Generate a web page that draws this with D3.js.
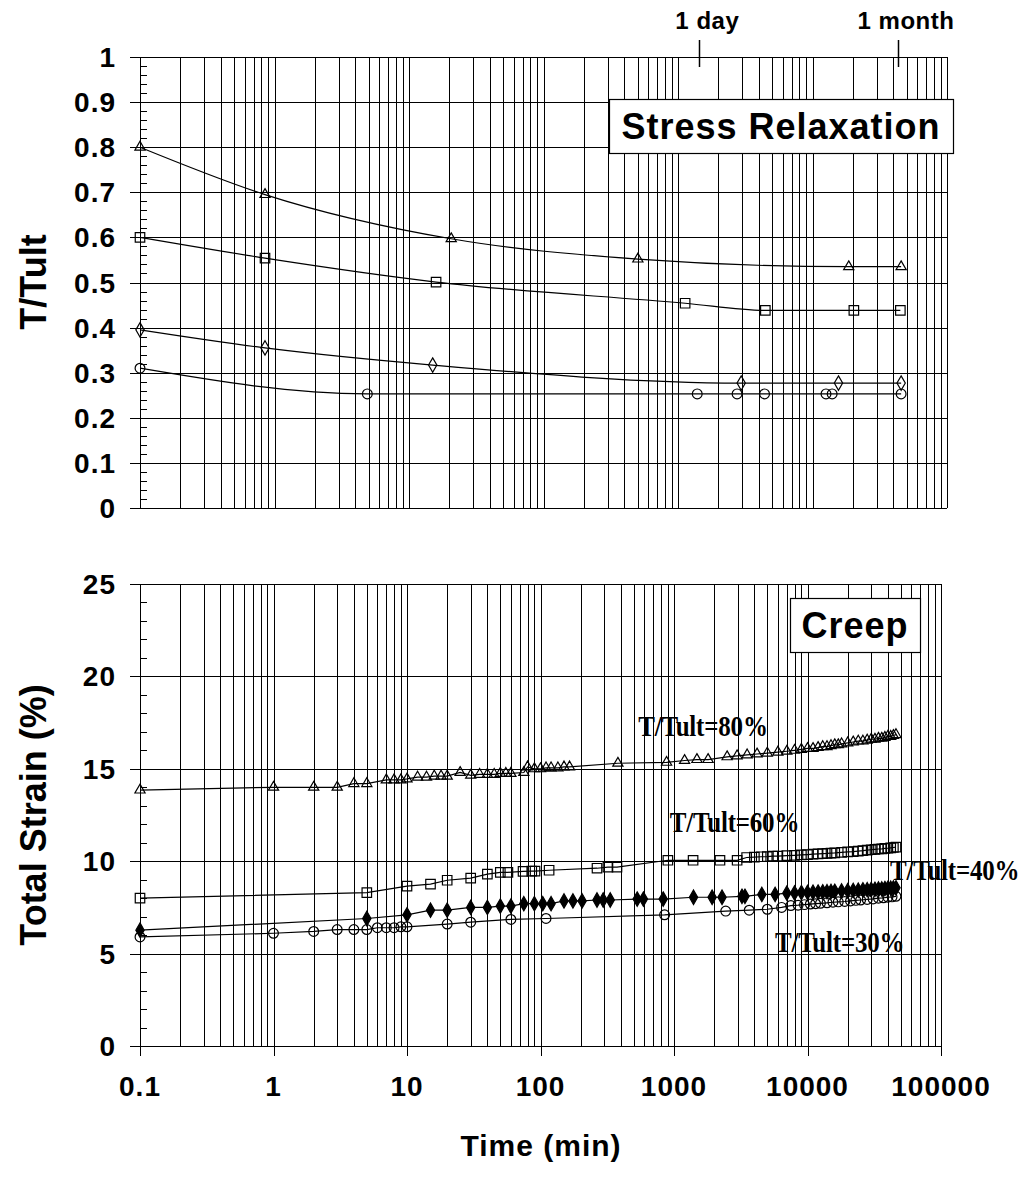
<!DOCTYPE html>
<html>
<head>
<meta charset="utf-8">
<script src="https://cdn.jsdelivr.net/npm/d3@7/dist/d3.min.js"></script>
<style>
  html, body { margin: 0; padding: 0; background: #fff; }
  svg { display: block; }
  text { font-family: "Liberation Sans", Arial, sans-serif; font-weight: bold; fill: #000; }
  .ann { font-family: "Liberation Serif", "Times New Roman", serif; font-weight: bold; }
</style>
</head>
<body>
<svg id="chart" width="1024" height="1181"></svg>
<script>
// ---------- DATA ----------
const xTickLabels = ["0.1", "1", "10", "100", "1000", "10000", "100000"];
const xTickValues = [0.1, 1, 10, 100, 1000, 10000, 100000];
const topYTicks = [0, 0.1, 0.2, 0.3, 0.4, 0.5, 0.6, 0.7, 0.8, 0.9, 1];
const topYLabels = ["0", "0.1", "0.2", "0.3", "0.4", "0.5", "0.6", "0.7", "0.8", "0.9", "1"];
const botYTicks = [0, 5, 10, 15, 20, 25];
const botYLabels = ["0", "5", "10", "15", "20", "25"];
const timeMarks = [{ label: "1 day", t: 1440 }, { label: "1 month", t: 43200 }];

// Stress relaxation (time [min], T/Tult)
const relax80 = [[0.1, 0.80], [0.85, 0.695], [20.6, 0.597], [503, 0.552], [18600, 0.535], [45600, 0.535]];
const relax60 = [[0.1, 0.60], [0.85, 0.554], [15.9, 0.501], [1130, 0.454], [4460, 0.438], [20300, 0.438], [45000, 0.438]];
const relax40 = [[0.1, 0.395], [0.85, 0.355], [15, 0.317], [2950, 0.277], [15600, 0.277], [45600, 0.277]];
const relax30 = [[0.1, 0.31], [4.9, 0.253], [1390, 0.253], [2750, 0.253], [4400, 0.253], [12600, 0.253], [14000, 0.253], [45600, 0.253]];

// Creep (time [min], total strain %)
const creep80 = [[0.1, 13.85], [1, 14.0], [2, 14.0], [3, 14.0], [4, 14.2], [5, 14.2], [7, 14.4], [8, 14.4], [9, 14.4], [10, 14.45],
  [12, 14.55], [14, 14.55], [16, 14.6], [18, 14.6], [20, 14.6], [25, 14.8], [30, 14.65], [35, 14.7], [40, 14.7], [45, 14.7],
  [50, 14.75], [55, 14.75], [60, 14.75], [75, 14.8], [80, 15.1], [90, 15.0], [100, 15.0], [110, 15.05], [120, 15.05], [135, 15.05],
  [150, 15.1], [165, 15.1], [380, 15.3], [880, 15.35], [1200, 15.45], [1485, 15.5], [1800, 15.5], [2500, 15.65], [2970, 15.7],
  [3530, 15.75], [4190, 15.8], [5000, 15.85], [6000, 15.9], [7000, 15.95], [8000, 16.0], [9000, 16.05], [10000, 16.1], [11000, 16.1],
  [12000, 16.15], [13000, 16.2], [14000, 16.2], [15000, 16.25], [16000, 16.3], [17000, 16.3], [18000, 16.35], [20000, 16.4],
  [22000, 16.45], [24000, 16.5], [26000, 16.5], [28000, 16.55], [30000, 16.6], [32000, 16.6], [34000, 16.65], [36000, 16.65],
  [38000, 16.7], [40000, 16.75], [42000, 16.75], [44000, 16.8], [46000, 16.85]];
const creep60 = [[0.1, 8.0], [5, 8.3], [10, 8.65], [15, 8.76], [20, 8.97], [30, 9.08], [40, 9.3], [50, 9.4], [57, 9.4], [74, 9.45],
  [86, 9.46], [91, 9.46], [116, 9.51], [265, 9.62], [320, 9.68], [374, 9.68], [900, 10.05], [1390, 10.05], [2210, 10.05], [2970, 10.05],
  [3500, 10.2], [4000, 10.22], [4500, 10.24], [5000, 10.25], [5500, 10.27], [6000, 10.28], [7000, 10.3], [8000, 10.32], [9000, 10.34],
  [10000, 10.36], [11000, 10.38], [12000, 10.4], [13000, 10.41], [14000, 10.42], [15000, 10.44], [16000, 10.45], [18000, 10.48],
  [20000, 10.5], [22000, 10.52], [24000, 10.55], [26000, 10.57], [28000, 10.6], [30000, 10.62], [32000, 10.64], [34000, 10.66],
  [36000, 10.67], [38000, 10.69], [40000, 10.7], [42000, 10.72], [44000, 10.74], [46000, 10.76]];
const creep40 = [[0.1, 6.27], [5, 6.9], [10, 7.1], [15, 7.35], [20, 7.35], [30, 7.5], [40, 7.5], [50, 7.57], [60, 7.57], [75, 7.7],
  [90, 7.7], [104, 7.7], [120, 7.7], [150, 7.85], [175, 7.85], [205, 7.85], [265, 7.9], [295, 7.9], [333, 7.9], [530, 7.95],
  [590, 7.95], [830, 7.95], [1400, 8.05], [1930, 8.05], [2290, 8.05], [3230, 8.1], [3400, 8.1], [4550, 8.2], [5720, 8.2],
  [7000, 8.27], [8000, 8.28], [9000, 8.3], [10000, 8.31], [11000, 8.32], [12000, 8.33], [13000, 8.34], [14000, 8.35], [15000, 8.36],
  [16000, 8.37], [18000, 8.39], [20000, 8.4], [22000, 8.42], [24000, 8.43], [26000, 8.45], [28000, 8.46], [30000, 8.47],
  [32000, 8.48], [34000, 8.5], [36000, 8.5], [38000, 8.52], [40000, 8.53], [42000, 8.54], [44000, 8.55], [46000, 8.56]];
const creep30 = [[0.1, 5.9], [1, 6.1], [2, 6.2], [3, 6.3], [4, 6.3], [5, 6.3], [6, 6.4], [7, 6.4], [8, 6.4], [9, 6.45], [10, 6.45],
  [20, 6.6], [30, 6.7], [60, 6.85], [110, 6.9], [850, 7.1], [2440, 7.3], [3660, 7.35], [5000, 7.4], [6400, 7.5], [7500, 7.6],
  [8500, 7.62], [9500, 7.65], [10500, 7.68], [11500, 7.7], [12500, 7.72], [14000, 7.75], [15500, 7.78], [17000, 7.8], [19000, 7.82],
  [21000, 7.85], [23000, 7.88], [25000, 7.9], [28000, 7.93], [31000, 7.96], [34000, 8.0], [37000, 8.02], [40000, 8.05],
  [43000, 8.07], [46000, 8.1]];

const creepLabels = [
  { text: "T/Tult=80%", t: 5.4e2, v: 16.76 },
  { text: "T/Tult=60%", t: 9.3e2, v: 11.57 },
  { text: "T/Tult=40%", t: 4.15e4, v: 8.97 },
  { text: "T/Tult=30%", t: 5.7e3, v: 5.08 }
];

// ---------- DRAW ----------
const svg = d3.select("#chart");

const xTop = d3.scaleLog().domain([0.1, 1e5]).range([140, 947]);
const yTop = d3.scaleLinear().domain([0, 1]).range([508, 57]);
const xBot = d3.scaleLog().domain([0.1, 1e5]).range([140, 941]);
const yBot = d3.scaleLinear().domain([0, 25]).range([1046, 584]);

const gridX = [];
for (let e = -1; e < 5; e++) for (let k = 1; k <= 9; k++) gridX.push(k * Math.pow(10, e));
gridX.push(1e5);

function crisp(v) { return Math.round(v) + 0.5; }

function panel(g, x, y, yTicks, yLabels, minorStep) {
  const [x0, x1] = x.range();
  const [y0, y1] = y.range();
  const [d0, d1] = y.domain();
  g.selectAll(".vg").data(gridX).enter().append("line")
    .attr("x1", d => crisp(x(d))).attr("x2", d => crisp(x(d)))
    .attr("y1", y1).attr("y2", y0)
    .attr("stroke", "#000").attr("stroke-width", 1).attr("shape-rendering", "crispEdges");
  g.selectAll(".hg").data(yTicks).enter().append("line")
    .attr("x1", x0 - 10).attr("x2", x1)
    .attr("y1", d => crisp(y(d))).attr("y2", d => crisp(y(d)))
    .attr("stroke", "#000").attr("stroke-width", 1).attr("shape-rendering", "crispEdges");
  const minor = d3.range(d0, d1 + 1e-9, minorStep).filter(v => !yTicks.some(t => Math.abs(t - v) < 1e-9));
  g.selectAll(".mt").data(minor).enter().append("line")
    .attr("x1", x0).attr("x2", x0 + 7)
    .attr("y1", d => crisp(y(d))).attr("y2", d => crisp(y(d)))
    .attr("stroke", "#000").attr("stroke-width", 1).attr("shape-rendering", "crispEdges");
  g.selectAll(".yl").data(yTicks).enter().append("text")
    .attr("x", 116).attr("y", d => y(d)).attr("dy", "0.36em")
    .attr("text-anchor", "end").style("font-size", "28px").style("letter-spacing", "1px")
    .text((d, i) => yLabels[i]);
}

const gTop = svg.append("g");
panel(gTop, xTop, yTop, topYTicks, topYLabels, 0.02);
const gBot = svg.append("g");
panel(gBot, xBot, yBot, botYTicks, botYLabels, 1);

gBot.selectAll(".dt").data(xTickValues).enter().append("line")
  .attr("x1", d => crisp(xBot(d))).attr("x2", d => crisp(xBot(d)))
  .attr("y1", 1046).attr("y2", 1056)
  .attr("stroke", "#000").attr("shape-rendering", "crispEdges");

gBot.selectAll(".xl").data(xTickValues).enter().append("text")
  .attr("x", d => xBot(d)).attr("y", 1096).attr("text-anchor", "middle")
  .style("font-size", "28px").style("letter-spacing", "1px")
  .text((d, i) => xTickLabels[i]);

svg.append("text").attr("x", 541).attr("y", 1156).attr("text-anchor", "middle")
  .style("font-size", "30px").style("letter-spacing", "1px").text("Time (min)");

svg.append("text").attr("transform", "translate(46,282) rotate(-90)").attr("text-anchor", "middle")
  .style("font-size", "36px").text("T/Tult");
svg.append("text").attr("transform", "translate(46,815) rotate(-90)").attr("text-anchor", "middle")
  .style("font-size", "36px").text("Total Strain (%)");

timeMarks.forEach(m => {
  svg.append("line").attr("x1", crisp(xTop(m.t))).attr("x2", crisp(xTop(m.t)))
    .attr("y1", 40).attr("y2", 67).attr("stroke", "#000").attr("stroke-width", 1.5);
  svg.append("text").attr("x", xTop(m.t) + 8).attr("y", 29).attr("text-anchor", "middle")
    .style("font-size", "24px").style("letter-spacing", "0.5px").text(m.label);
});

function box(x0, y0, w, h, label, size) {
  svg.append("rect").attr("x", x0 + 0.5).attr("y", y0 + 0.5).attr("width", w).attr("height", h)
    .attr("fill", "#fff").attr("stroke", "#000").attr("stroke-width", 1.2);
  svg.append("text").attr("x", x0 + w / 2).attr("y", y0 + h / 2).attr("dy", "0.36em").attr("text-anchor", "middle")
    .style("font-size", size + "px").style("letter-spacing", "1px").text(label);
}

const sym = {
  tri: d3.symbol().type(d3.symbolTriangle).size(45),
  sq: d3.symbol().type(d3.symbolSquare).size(90),
  dia: d3.symbol().type(d3.symbolDiamond).size(60),
  circ: d3.symbol().type(d3.symbolCircle).size(75)
};

function series(g, data, x, y, kind, filled, curve) {
  const line = d3.line().x(d => x(d[0])).y(d => y(d[1])).curve(curve);
  g.append("path").datum(data).attr("d", line).attr("fill", "none").attr("stroke", "#000").attr("stroke-width", 1.2);
  g.selectAll(null).data(data).enter().append("path")
    .attr("transform", d => `translate(${x(d[0])},${y(d[1])})`)
    .attr("d", sym[kind]())
    .attr("fill", filled ? "#000" : "none")
    .attr("stroke", "#000").attr("stroke-width", 1.2);
}

series(gTop, relax80, xTop, yTop, "tri", false, d3.curveMonotoneX);
series(gTop, relax60, xTop, yTop, "sq", false, d3.curveMonotoneX);
series(gTop, relax40, xTop, yTop, "dia", false, d3.curveMonotoneX);
series(gTop, relax30, xTop, yTop, "circ", false, d3.curveMonotoneX);

series(gBot, creep80, xBot, yBot, "tri", false, d3.curveLinear);
series(gBot, creep60, xBot, yBot, "sq", false, d3.curveLinear);
series(gBot, creep40, xBot, yBot, "dia", true, d3.curveLinear);
series(gBot, creep30, xBot, yBot, "circ", false, d3.curveLinear);

creepLabels.forEach(l => {
  gBot.append("text").attr("class", "ann")
    .attr("transform", `translate(${xBot(l.t)},${yBot(l.v)}) scale(1,1.15)`)
    .style("font-size", "25px").style("letter-spacing", "-0.2px").text(l.text);
});

box(609, 99, 344, 54, "Stress Relaxation", 36);
box(790, 598, 130, 54, "Creep", 36);
</script>
</body>
</html>
